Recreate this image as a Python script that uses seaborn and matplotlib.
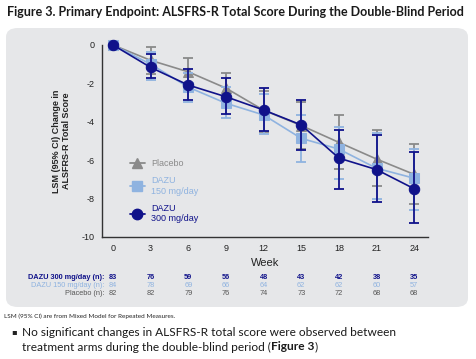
import numpy as np
import pandas as pd
import matplotlib
matplotlib.use("Agg")
import matplotlib.pyplot as plt
import seaborn as sns
from matplotlib.patches import FancyBboxPatch
from matplotlib.lines import Line2D

# ---- data ----
weeks = [0, 3, 6, 9, 12, 15, 18, 21, 24]
placebo = [0, -0.8, -1.4, -2.25, -3.4, -4.2, -5.08, -5.95, -6.75]
placebo_lo = [0, -1.5, -2.1, -3.05, -4.55, -5.43, -6.48, -7.37, -8.3]
placebo_hi = [0, -0.12, -0.66, -1.44, -2.4, -2.95, -3.65, -4.43, -5.18]
dazu150 = [0, -1.0, -2.2, -3.04, -3.65, -4.87, -5.43, -6.43, -6.95]
dazu150_lo = [0, -1.8, -2.95, -3.79, -4.64, -6.09, -6.99, -8.03, -8.6]
dazu150_hi = [0, -0.35, -1.45, -2.2, -2.55, -3.65, -4.26, -4.6, -5.43]
dazu300 = [0, -1.17, -2.09, -2.7, -3.39, -4.17, -5.9, -6.5, -7.5]
dazu300_lo = [0, -1.74, -2.87, -3.6, -4.49, -5.48, -7.51, -8.17, -9.27]
dazu300_hi = [0, -0.49, -1.27, -1.74, -2.23, -2.87, -4.45, -4.7, -5.6]
n300 = [83, 76, 59, 56, 48, 43, 42, 38, 35]
n150 = [84, 78, 69, 66, 64, 62, 62, 60, 57]
nplacebo = [82, 82, 79, 76, 74, 73, 72, 68, 68]
yticks = [0, -2, -4, -6, -8, -10]

C_PBO = "#8a8a8a"
C_150 = "#8fb3e0"
C_300 = "#10128a"
PANEL = "#e6e7e9"

sns.set_theme(style="white")
plt.rcParams['font.family'] = ['Liberation Sans', 'DejaVu Sans']

fig = plt.figure(figsize=(4.77, 3.59), dpi=100)
W, H = 477, 359

def fx(px):
    return px / W

def fy(py):
    return 1 - py / H

panel = FancyBboxPatch((fx(6), fy(307)), fx(468) - fx(6), fy(28) - fy(307),
                       boxstyle="round,pad=0,rounding_size=0.025",
                       transform=fig.transFigure, facecolor=PANEL,
                       edgecolor="none", zorder=-10)
fig.patches.append(panel)

ax = fig.add_axes([fx(101.7), fy(236.7), fx(428) - fx(101.7), fy(45) - fy(236.7)])
ax.set_zorder(5)
ax.set_facecolor("none")

series = [
    ("Placebo", placebo, placebo_lo, placebo_hi, C_PBO, "^", 6.5),
    ("DAZU\n150 mg/day", dazu150, dazu150_lo, dazu150_hi, C_150, "s", 6.5),
    ("DAZU\n300 mg/day", dazu300, dazu300_lo, dazu300_hi, C_300, "o", 7.5),
]
frames = []
for name, m, lo, hi, c, mk, ms in series:
    frames.append(pd.DataFrame({"week": weeks, "lsm": m, "lo": lo, "hi": hi, "arm": name}))
df = pd.concat(frames, ignore_index=True)

for i, (name, m, lo, hi, c, mk, ms) in enumerate(series):
    d = df[df.arm == name]
    yerr = np.vstack([d.lsm - d.lo, d.hi - d.lsm])
    ax.errorbar(d.week, d.lsm, yerr=yerr, fmt="none", ecolor=c, elinewidth=1.3,
                capsize=3.5, capthick=1.3, zorder=2 + i, clip_on=False)
    sns.lineplot(data=d, x="week", y="lsm", ax=ax, color=c, marker=mk,
                 markersize=ms, markeredgecolor=c, linewidth=1.2,
                 legend=False, zorder=3 + i, clip_on=False)

ax.set_xlim(-0.9, 25.1)
ax.set_ylim(-10, 0)
ax.set_xticks(weeks)
ax.set_yticks(yticks)
ax.set_yticklabels([str(v) for v in yticks])
for s in ["top", "right"]:
    ax.spines[s].set_visible(False)
for s in ["left", "bottom"]:
    ax.spines[s].set_color("#333333")
    ax.spines[s].set_linewidth(1.0)
ax.tick_params(axis="both", which="major", direction="out", length=3, width=1,
               color="#333333", labelsize=6.5, labelcolor="#222222", pad=2)
ax.set_xlabel("Week", fontsize=8, color="#222222", labelpad=4)
ax.set_ylabel("LSM (95% CI) Change in\nALSFRS-R Total Score", fontsize=6.5,
              fontweight="bold", color="#222222", labelpad=8, linespacing=1.1)

# legend
handles = []
for name, m, lo, hi, c, mk, ms in series:
    handles.append(Line2D([0], [0], color=c, marker=mk, markersize=ms,
                          markeredgecolor=c, linewidth=1.3))
leg = ax.legend(handles, [s[0] for s in series], loc="upper left",
                bbox_to_anchor=(fx(122), fy(151)), bbox_transform=fig.transFigure,
                frameon=False, fontsize=6.5, handlelength=1.6, handletextpad=0.7,
                labelspacing=0.9)
for t, s in zip(leg.get_texts(), series):
    t.set_color(s[4])

# n table
rows = [("DAZU 300 mg/day (n):", n300, C_300, "bold", 277.7),
        ("DAZU 150 mg/day (n):", n150, C_150, "normal", 285.3),
        ("Placebo (n):", nplacebo, "#555555", "normal", 293.3)]
for label, vals, c, wt, ypx in rows:
    fig.text(fx(104.5), fy(ypx), label, ha="right", va="center", fontsize=5.3,
             color=c, fontweight=wt)
    for wk, v in zip(weeks, vals):
        xd = ax.transData.transform((wk, 0))[0]
        fig.text(xd / W, fy(ypx), str(v), ha="center", va="center",
                 fontsize=5.3, color=c, fontweight=wt)

fig.text(fx(7), fy(12), "Figure 3. Primary Endpoint: ALSFRS-R Total Score During the Double-Blind Period",
         ha="left", va="center", fontsize=9.0, fontweight="bold", family="Lato", color="#1a1a1a")
fig.text(fx(4), fy(316), "LSM (95% CI) are from Mixed Model for Repeated Measures.",
         ha="left", va="center", fontsize=4.6, family="Lato", color="#222222")
fig.text(fx(11), fy(332), "\u25aa", ha="left", va="center", fontsize=6, color="#222222",
         family="DejaVu Sans")
FS = 8.6
fig.text(fx(22), fy(332), "No significant changes in ALSFRS-R total score were observed between",
         ha="left", va="center", fontsize=FS, family="Lato", color="#1a1a1a")
t1 = fig.text(fx(22), fy(347), "treatment arms during the double-blind period (",
              ha="left", va="center", fontsize=FS, family="Lato", color="#1a1a1a")

fig.canvas.draw()
bb = t1.get_window_extent()
t2 = fig.text(bb.x1 / W, fy(347), "Figure 3", ha="left", va="center", fontsize=FS,
              family="Lato", fontweight="bold", color="#1a1a1a")
fig.canvas.draw()
bb2 = t2.get_window_extent()
fig.text(bb2.x1 / W, fy(347), ")", ha="left", va="center", fontsize=FS,
         family="Lato", color="#1a1a1a")

fig.savefig("out.png", dpi=100, facecolor="white")
